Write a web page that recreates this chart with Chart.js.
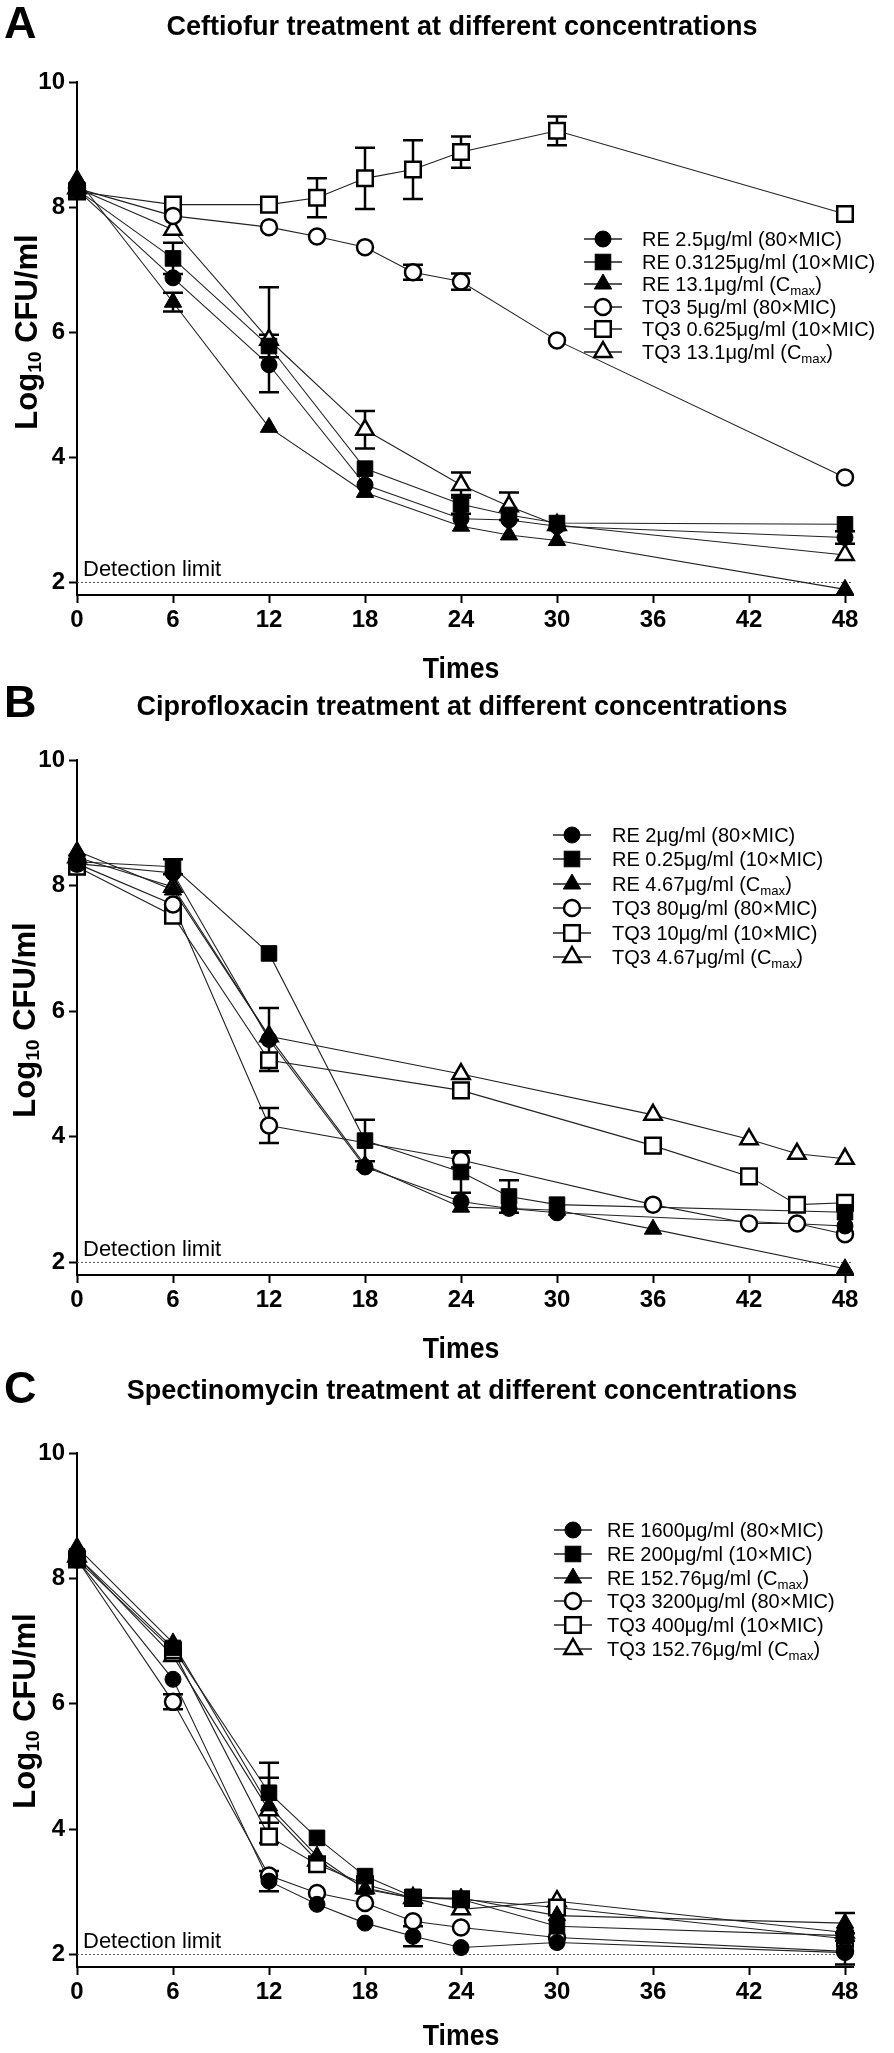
<!DOCTYPE html>
<html><head><meta charset="utf-8">
<script src="https://cdn.jsdelivr.net/npm/chart.js@4.4.1/dist/chart.umd.min.js"></script>
<style>
html,body{margin:0;padding:0;background:#fff;}
body{width:894px;height:2053px;position:relative;overflow:hidden;font-family:"Liberation Sans",Arial,sans-serif;color:#000;}
.panel{position:absolute;left:0;width:894px;}
.panel canvas{position:absolute;left:0;top:0;}
.letter{position:absolute;left:4px;font-weight:bold;font-size:45px;line-height:1;}
.title{position:absolute;left:462px;font-weight:bold;font-size:27px;line-height:1;white-space:nowrap;transform:translateX(-50%);}
.ylab{position:absolute;font-weight:bold;font-size:31px;line-height:1;white-space:nowrap;transform:translate(-50%,-50%) rotate(-90deg);}
.ylab sub{font-size:0.62em;vertical-align:-0.25em;line-height:0;}
.xlab{position:absolute;font-weight:bold;font-size:29px;line-height:1;white-space:nowrap;transform:translate(-50%,-50%) scaleX(0.92);}
.leg{position:absolute;font-size:20px;line-height:22px;white-space:nowrap;transform-origin:0 50%;transform:translateY(-50%);}
.leg sub{font-size:0.66em;vertical-align:-0.3em;line-height:0;}
</style></head><body>

<div class="panel" id="pA" style="top:0;height:680px;"><canvas id="cA" width="894" height="680"></canvas></div>
<div class="panel" id="pB" style="top:680px;height:680px;"><canvas id="cB" width="894" height="680"></canvas></div>
<div class="panel" id="pC" style="top:1360px;height:693px;"><canvas id="cC" width="894" height="693"></canvas></div>

<script>
// ---------------- DATA ----------------
const X_TICKS = [0, 6, 12, 18, 24, 30, 36, 42, 48];
const Y_TICKS = [2, 4, 6, 8, 10];
const DETECTION_LIMIT = 2;
const DETECTION_TEXT = 'Detection limit';
const X_TITLE = 'Times';

// Panel A: Ceftiofur
const A_TITLE = 'Ceftiofur treatment at different concentrations';
const A_LABELS = ['RE 2.5μg/ml (80×MIC)', 'RE 0.3125μg/ml (10×MIC)', 'RE 13.1μg/ml (Cmax)',
                  'TQ3 5μg/ml (80×MIC)', 'TQ3 0.625μg/ml (10×MIC)', 'TQ3 13.1μg/ml (Cmax)'];
const A_T_RE = [0, 6, 12, 18, 24, 27, 30, 48];
const A_T_TQ = [0, 6, 12, 15, 18, 21, 24, 30, 48];
const A_RE_80  = [8.28, 6.87, 5.48, 3.56, 3.02, 3.00, 2.90, 2.72];
const A_RE_10  = [8.28, 7.18, 5.78, 3.82, 3.25, 3.08, 2.95, 2.93];
const A_RE_CM  = [8.45, 6.48, 4.48, 3.44, 2.90, 2.76, 2.67, 1.89];
const A_TQ_80  = [8.30, 7.86, 7.68, 7.53, 7.36, 6.96, 6.81, 5.87, 3.68];
const A_TQ_10  = [8.25, 8.04, 8.04, 8.15, 8.46, 8.60, 8.88, 9.22, 7.89];
const A_TQ_CM  = [8.30, 7.64, 5.88, 4.44, 3.56, 3.22, 2.92, 2.44];
const A_RE_80_SD = [0, 0, 0, 0, 0, 0, 0, 0.10];
const A_RE_10_SD = [0, 0.25, 0.18, 0, 0.15, 0, 0, 0];
const A_RE_CM_SD = [0, 0.15, 0, 0, 0, 0, 0, 0];
const A_TQ_80_SD = [0, 0, 0, 0, 0, 0.12, 0.13, 0, 0];
const A_TQ_10_SD = [0, 0, 0, 0.31, 0.49, 0.47, 0.25, 0.23, 0];
const A_TQ_CM_SD = [0, 0, 0.84, 0.30, 0.20, 0.22, 0, 0];

// Panel B: Ciprofloxacin
const B_TITLE = 'Ciprofloxacin treatment at different concentrations';
const B_LABELS = ['RE 2μg/ml (80×MIC)', 'RE 0.25μg/ml (10×MIC)', 'RE 4.67μg/ml (Cmax)',
                  'TQ3 80μg/ml (80×MIC)', 'TQ3 10μg/ml (10×MIC)', 'TQ3 4.67μg/ml (Cmax)'];
const B_T_RE  = [0, 6, 12, 18, 24, 27, 30, 48];
const B_T_RE3 = [0, 6, 12, 18, 24, 27, 30, 36, 48];
const B_T_TQ  = [0, 6, 12, 24, 36, 42, 45, 48];
const B_RE_80 = [8.35, 8.20, 5.55, 3.52, 2.97, 2.86, 2.79, 2.58];
const B_RE_10 = [8.38, 8.30, 6.92, 3.94, 3.44, 3.05, 2.92, 2.80];
const B_RE_CM = [8.55, 7.93, 5.60, 3.55, 2.88, 2.86, 2.83, 2.53, 1.90];
const B_TQ_80 = [8.35, 7.70, 4.18, 3.63, 2.92, 2.62, 2.62, 2.45];
const B_TQ_10 = [8.30, 7.52, 5.22, 4.74, 3.86, 3.37, 2.92, 2.95];
const B_TQ_CM = [8.45, 7.98, 5.60, 5.00, 4.35, 3.96, 3.73, 3.65];
const B_RE_80_SD = [0, 0, 0.50, 0, 0, 0, 0, 0];
const B_RE_10_SD = [0, 0.12, 0, 0.33, 0.33, 0.26, 0, 0];
const B_RE_CM_SD = [0, 0, 0, 0, 0, 0, 0, 0, 0];
const B_TQ_80_SD = [0, 0, 0.28, 0.12, 0, 0, 0, 0];
const B_TQ_10_SD = [0, 0, 0, 0, 0, 0, 0, 0];
const B_TQ_CM_SD = [0, 0, 0, 0, 0, 0, 0, 0];

// Panel C: Spectinomycin
const C_TITLE = 'Spectinomycin treatment at different concentrations';
const C_LABELS = ['RE 1600μg/ml (80×MIC)', 'RE 200μg/ml (10×MIC)', 'RE 152.76μg/ml (Cmax)',
                  'TQ3 3200μg/ml (80×MIC)', 'TQ3 400μg/ml (10×MIC)', 'TQ3 152.76μg/ml (Cmax)'];
const C_T = [0, 6, 12, 15, 18, 21, 24, 30, 48];
const C_RE_80 = [8.30, 6.39, 3.17, 2.80, 2.50, 2.29, 2.11, 2.19, 2.03];
const C_RE_10 = [8.35, 6.89, 4.58, 3.86, 3.25, 2.92, 2.88, 2.45, 2.30];
const C_RE_CM = [8.50, 6.97, 4.37, 3.57, 3.04, 2.90, 2.90, 2.62, 2.50];
const C_TQ_80 = [8.30, 6.03, 3.26, 2.98, 2.82, 2.53, 2.43, 2.27, 2.05];
const C_TQ_10 = [8.30, 6.85, 3.88, 3.44, 3.12, 2.90, 2.88, 2.75, 2.25];
const C_TQ_CM = [8.35, 6.76, 4.30, 3.50, 3.06, 2.90, 2.72, 2.85, 2.35];
const C_RE_80_SD = [0, 0, 0.16, 0, 0, 0.16, 0, 0, 0.19];
const C_RE_10_SD = [0, 0, 0.48, 0, 0, 0, 0, 0, 0];
const C_RE_CM_SD = [0, 0, 0, 0, 0, 0, 0, 0, 0.16];
const C_TQ_80_SD = [0, 0.12, 0, 0, 0, 0, 0, 0, 0];
const C_TQ_10_SD = [0, 0, 0, 0, 0, 0, 0, 0, 0];
const C_TQ_CM_SD = [0, 0, 0.52, 0, 0, 0, 0, 0, 0];

// ---------------- STYLE ----------------
const FONT = '"Liberation Sans", Arial, sans-serif';
const STYLES = [
  {ps: 'circle', fill: true}, {ps: 'rect', fill: true}, {ps: 'triangle', fill: true},
  {ps: 'circle', fill: false}, {ps: 'rect', fill: false}, {ps: 'triangle', fill: false}
];
const RADII = {circle: 8, rect: 11, triangle: 10};

const errorBarPlugin = {
  id: 'errorBars',
  beforeDatasetsDraw(chart) { chart.$ebDone = false; },
  beforeDatasetDraw(chart, args) {
    const ds = chart.data.datasets[args.index];
    if (!ds.isPoints || chart.$ebDone) return;
    chart.$ebDone = true;
    const ctx = chart.ctx, xs = chart.scales.x, ys = chart.scales.y;
    ctx.save();
    ctx.strokeStyle = '#000';
    ctx.lineWidth = 2.5;
    chart.data.datasets.forEach(d => {
      if (!d.isPoints || !d.errors) return;
      d.data.forEach((p, j) => {
        const e = d.errors[j];
        if (!e) return;
        const x = xs.getPixelForValue(p.x);
        const y1 = ys.getPixelForValue(p.y + e), y2 = ys.getPixelForValue(p.y - e);
        ctx.beginPath();
        ctx.moveTo(x, y1); ctx.lineTo(x, y2);
        ctx.moveTo(x - 10, y1); ctx.lineTo(x + 10, y1);
        ctx.moveTo(x - 10, y2); ctx.lineTo(x + 10, y2);
        ctx.stroke();
      });
    });
    ctx.restore();
  }
};

const detLabelPlugin = {
  id: 'detLabel',
  afterDatasetsDraw(chart) {
    const ctx = chart.ctx;
    const x = chart.scales.x.getPixelForValue(0) + 6;
    const y = chart.scales.y.getPixelForValue(DETECTION_LIMIT) - 6;
    ctx.save();
    ctx.font = '22px ' + FONT;
    ctx.fillStyle = '#000';
    ctx.textBaseline = 'alphabetic';
    ctx.textAlign = 'left';
    ctx.fillText(DETECTION_TEXT, x, y);
    ctx.restore();
  }
};

function toPts(t, v) { return t.map((x, i) => ({x: x, y: v[i]})); }

function buildChart(canvasId, times, vals, errs, padTop, xAxisH) {
  const datasets = [];
  datasets.push({
    data: [{x: 0, y: DETECTION_LIMIT}, {x: 48.5, y: DETECTION_LIMIT}],
    showLine: true, borderColor: '#555', borderWidth: 1, borderDash: [2, 2],
    pointRadius: 0, order: 20, clip: false
  });
  for (let i = 0; i < 6; i++) {
    const pts = toPts(times[i], vals[i]);
    datasets.push({
      data: pts, showLine: true, borderColor: '#222', borderWidth: 1.1,
      pointRadius: 0, order: 10, clip: false
    });
  }
  for (let i = 0; i < 6; i++) {
    const st = STYLES[i];
    const pts = toPts(times[i], vals[i]);
    datasets.push({
      data: pts, showLine: false, isPoints: true, errors: errs[i],
      pointStyle: st.ps, pointRadius: RADII[st.ps], pointHoverRadius: RADII[st.ps],
      pointBackgroundColor: st.fill ? '#000' : '#fff', pointBorderColor: '#000',
      pointBorderWidth: st.fill ? 1 : 2.5, order: i, clip: false
    });
  }
  const tickFont = {family: FONT, size: 24, weight: 'bold'};
  return new Chart(document.getElementById(canvasId), {
    type: 'scatter',
    data: {datasets: datasets},
    plugins: [errorBarPlugin, detLabelPlugin],
    options: {
      responsive: false, animation: false, devicePixelRatio: 1, events: [],
      layout: {padding: {top: padTop, right: 41, left: 0, bottom: 0}},
      plugins: {legend: {display: false}, tooltip: {enabled: false}, title: {display: false}},
      scales: {
        x: {
          type: 'linear', min: 0, max: 48.5,
          afterBuildTicks: s => { s.ticks = X_TICKS.map(v => ({value: v})); },
          afterFit: s => { s.height = xAxisH; },
          grid: {display: true, drawOnChartArea: false, drawTicks: true, tickLength: 8, tickWidth: 2, tickColor: '#000'},
          border: {display: true, color: '#000', width: 2},
          ticks: {font: tickFont, color: '#000', padding: 3, maxRotation: 0, autoSkip: false}
        },
        y: {
          type: 'linear', min: 1.8, max: 10,
          afterBuildTicks: s => { s.ticks = Y_TICKS.map(v => ({value: v})); },
          afterFit: s => { s.width = 77; },
          grid: {display: true, drawOnChartArea: false, drawTicks: true, tickLength: 8, tickWidth: 2, tickColor: '#000'},
          border: {display: true, color: '#000', width: 2},
          ticks: {font: tickFont, color: '#000', padding: 4, autoSkip: false}
        }
      }
    }
  });
}

function addText(panel, cls, html, left, top) {
  const d = document.createElement('div');
  d.className = cls;
  d.innerHTML = html;
  d.style.left = left + 'px';
  d.style.top = top + 'px';
  panel.appendChild(d);
  return d;
}

function buildLegend(panel, labels, mx, tx, y0, pitch) {
  const NS = 'http://www.w3.org/2000/svg';
  labels.forEach((lab, i) => {
    const cy = y0 + pitch * i;
    const st = STYLES[i];
    const svg = document.createElementNS(NS, 'svg');
    svg.setAttribute('width', 48); svg.setAttribute('height', 28);
    svg.style.position = 'absolute';
    svg.style.left = (mx - 24) + 'px';
    svg.style.top = (cy - 14) + 'px';
    const ln = document.createElementNS(NS, 'line');
    ln.setAttribute('x1', 5); ln.setAttribute('x2', 43); ln.setAttribute('y1', 14); ln.setAttribute('y2', 14);
    ln.setAttribute('stroke', '#222'); ln.setAttribute('stroke-width', 1.3);
    svg.appendChild(ln);
    let m;
    const r = RADII[st.ps];
    if (st.ps === 'circle') {
      m = document.createElementNS(NS, 'circle');
      m.setAttribute('cx', 24); m.setAttribute('cy', 14); m.setAttribute('r', r);
    } else if (st.ps === 'rect') {
      const s = r * Math.SQRT1_2;
      m = document.createElementNS(NS, 'rect');
      m.setAttribute('x', 24 - s); m.setAttribute('y', 14 - s); m.setAttribute('width', 2 * s); m.setAttribute('height', 2 * s);
    } else {
      m = document.createElementNS(NS, 'polygon');
      const h = r * 0.866;
      m.setAttribute('points', `24,${14 - r} ${24 + h},${14 + r / 2} ${24 - h},${14 + r / 2}`);
    }
    m.setAttribute('fill', st.fill ? '#000' : '#fff');
    m.setAttribute('stroke', '#000');
    m.setAttribute('stroke-width', st.fill ? 1 : 2.5);
    svg.appendChild(m);
    panel.appendChild(svg);
    addText(panel, 'leg', lab.replace('Cmax', 'C<sub>max</sub>'), tx, cy);
  });
}

const YLAB = 'Log<sub>10</sub> CFU/ml';

const panels = [
  {id: 'pA', canvas: 'cA', letter: 'A', title: A_TITLE, labels: A_LABELS,
   times: [A_T_RE, A_T_RE, A_T_RE, A_T_TQ, A_T_TQ, A_T_RE],
   vals: [A_RE_80, A_RE_10, A_RE_CM, A_TQ_80, A_TQ_10, A_TQ_CM],
   errs: [A_RE_80_SD, A_RE_10_SD, A_RE_CM_SD, A_TQ_80_SD, A_TQ_10_SD, A_TQ_CM_SD],
   padTop: 82, xAxisH: 85, letterTop: 0, titleTop: 13, ylab: [26, 332], xlab: [461, 668],
   leg: {mx: 603, tx: 642, y0: 239, pitch: 22.5}},
  {id: 'pB', canvas: 'cB', letter: 'B', title: B_TITLE, labels: B_LABELS,
   times: [B_T_RE, B_T_RE, B_T_RE3, B_T_TQ, B_T_TQ, B_T_TQ],
   vals: [B_RE_80, B_RE_10, B_RE_CM, B_TQ_80, B_TQ_10, B_TQ_CM],
   errs: [B_RE_80_SD, B_RE_10_SD, B_RE_CM_SD, B_TQ_80_SD, B_TQ_10_SD, B_TQ_CM_SD],
   padTop: 80, xAxisH: 85, letterTop: -1, titleTop: 13, ylab: [24, 340], xlab: [461, 668],
   leg: {mx: 572, tx: 612, y0: 155, pitch: 24.4}},
  {id: 'pC', canvas: 'cC', letter: 'C', title: C_TITLE, labels: C_LABELS,
   times: [C_T, C_T, C_T, C_T, C_T, C_T],
   vals: [C_RE_80, C_RE_10, C_RE_CM, C_TQ_80, C_TQ_10, C_TQ_CM],
   errs: [C_RE_80_SD, C_RE_10_SD, C_RE_CM_SD, C_TQ_80_SD, C_TQ_10_SD, C_TQ_CM_SD],
   padTop: 93, xAxisH: 86, letterTop: 5, titleTop: 17, ylab: [24, 351], xlab: [461, 675],
   leg: {mx: 573, tx: 607, y0: 170, pitch: 23.8}}
];

panels.forEach(p => {
  const el = document.getElementById(p.id);
  buildChart(p.canvas, p.times, p.vals, p.errs, p.padTop, p.xAxisH);
  addText(el, 'letter', p.letter, 4, p.letterTop);
  addText(el, 'title', p.title, 462, p.titleTop);
  addText(el, 'ylab', YLAB, p.ylab[0], p.ylab[1]);
  addText(el, 'xlab', X_TITLE, p.xlab[0], p.xlab[1]);
  buildLegend(el, p.labels, p.leg.mx, p.leg.tx, p.leg.y0, p.leg.pitch);
});
</script>
</body></html>
